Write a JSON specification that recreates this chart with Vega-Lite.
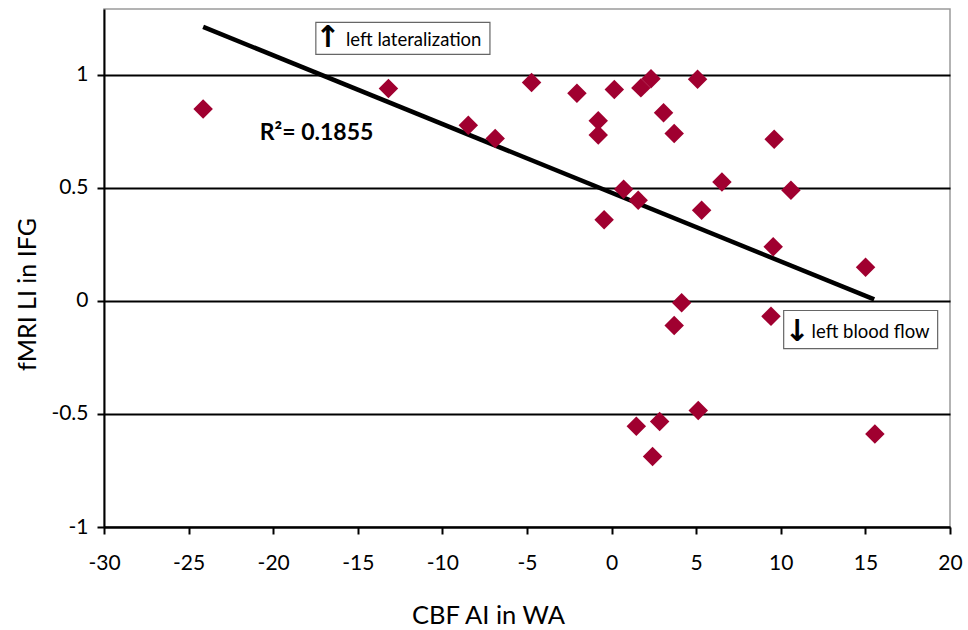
{
  "$schema": "https://vega.github.io/schema/vega-lite/v6.json",
  "width": 846,
  "height": 518,
  "autosize": {"type": "none"},
  "padding": {"left": 104, "top": 9, "right": 18, "bottom": 103},
  "background": "white",
  "config": {
    "view": {"stroke": "#9a9a9a", "strokeWidth": 1.5},
    "font": "Lato"
  },
  "resolve": {"axis": {"x": "independent", "y": "independent"}},
  "datasets": {
    "points": [
      {"x": -24.14, "y": 0.850},
      {"x": -13.19, "y": 0.940},
      {"x": -8.47, "y": 0.778},
      {"x": -6.88, "y": 0.719},
      {"x": -4.73, "y": 0.967},
      {"x": -2.05, "y": 0.919},
      {"x": -0.79, "y": 0.797},
      {"x": -0.79, "y": 0.734},
      {"x": 0.16, "y": 0.936},
      {"x": 1.73, "y": 0.943},
      {"x": 2.33, "y": 0.983},
      {"x": 5.08, "y": 0.981},
      {"x": 3.07, "y": 0.833},
      {"x": 3.70, "y": 0.741},
      {"x": 9.61, "y": 0.716},
      {"x": 0.71, "y": 0.494},
      {"x": 1.57, "y": 0.446},
      {"x": -0.44, "y": 0.360},
      {"x": 6.52, "y": 0.527},
      {"x": 10.6, "y": 0.490},
      {"x": 5.32, "y": 0.401},
      {"x": 9.55, "y": 0.240},
      {"x": 15.01, "y": 0.149},
      {"x": 4.14, "y": -0.008},
      {"x": 3.70, "y": -0.108},
      {"x": 9.42, "y": -0.068},
      {"x": 5.12, "y": -0.484},
      {"x": 2.84, "y": -0.533},
      {"x": 1.46, "y": -0.554},
      {"x": 15.56, "y": -0.589},
      {"x": 2.42, "y": -0.688}
    ],
    "trend": [
      {"x": -24.14, "y": 1.213},
      {"x": 15.52, "y": 0.007}
    ]
  },
  "layer": [
    {
      "data": {"name": "trend"},
      "mark": {"type": "line", "color": "black", "strokeWidth": 4.5},
      "encoding": {
        "x": {
          "field": "x", "type": "quantitative",
          "scale": {"domain": [-30, 20], "nice": false, "zero": false},
          "axis": {
            "title": "CBF AI in WA",
            "values": [-30, -25, -20, -15, -10, -5, 0, 5, 10, 15, 20],
            "labelExpr": "datum.value < 0 ? '-' + format(-datum.value, '') : format(datum.value, '')",
            "labelFlush": false, "labelOverlap": false,
            "grid": false,
            "domainColor": "black", "domainWidth": 2,
            "tickColor": "black", "tickWidth": 2, "tickSize": 7,
            "labelFont": "Lato", "labelFontSize": 21, "labelColor": "black",
            "labelPadding": 18,
            "titleFont": "Lato", "titleFontSize": 25.5, "titleFontWeight": "normal", "titleColor": "black",
            "titleAlign": "center", "titleBaseline": "alphabetic",
            "titleX": 384, "titleY": 96
          }
        },
        "y": {
          "field": "y", "type": "quantitative",
          "scale": {"domain": [-1, 1.292], "nice": false, "zero": false},
          "axis": {
            "title": "fMRI LI in IFG",
            "values": [-1, -0.5, 0, 0.5, 1],
            "labelExpr": "datum.value < 0 ? '-' + format(-datum.value, '') : format(datum.value, '')",
            "labelFlush": false, "labelOverlap": false,
            "grid": true, "gridColor": "black", "gridWidth": 1.8, "gridOpacity": 1,
            "domainColor": "black", "domainWidth": 2,
            "tickColor": "black", "tickWidth": 2, "tickSize": 7,
            "labelFont": "Lato", "labelFontSize": 21, "labelColor": "black",
            "labelPadding": 9,
            "titleFont": "Lato", "titleFontSize": 25, "titleFontWeight": "normal", "titleColor": "black",
            "titleAlign": "center", "titleBaseline": "alphabetic", "titleAngle": -90,
            "titleX": -69, "titleY": 285
          }
        }
      }
    },
    {
      "data": {"name": "points"},
      "mark": {"type": "point", "shape": "diamond", "filled": true, "size": 380, "color": "#A00030", "opacity": 1},
      "encoding": {
        "x": {"field": "x", "type": "quantitative", "axis": null},
        "y": {"field": "y", "type": "quantitative", "axis": null}
      }
    },
    {
      "data": {"values": [{"label": "left lateralization"}]},
      "mark": {"type": "rect", "fill": "white", "stroke": "#666666", "strokeWidth": 1.2},
      "encoding": {
        "x": {"datum": -17.48, "type": "quantitative", "axis": null},
        "x2": {"datum": -7.19},
        "y": {"datum": 1.2325, "type": "quantitative", "axis": null},
        "y2": {"datum": 1.091}
      }
    },
    {
      "data": {"values": [{"label": "left blood flow"}]},
      "mark": {"type": "rect", "fill": "white", "stroke": "#666666", "strokeWidth": 1.2},
      "encoding": {
        "x": {"datum": 10.17, "type": "quantitative", "axis": null},
        "x2": {"datum": 19.27},
        "y": {"datum": -0.042, "type": "quantitative", "axis": null},
        "y2": {"datum": -0.211}
      }
    },
    {
      "data": {"values": [{"label": "left lateralization"}]},
      "mark": {"type": "text", "align": "left", "baseline": "middle", "font": "Lato", "fontSize": 18.5, "color": "black"},
      "encoding": {
        "x": {"datum": -15.70, "type": "quantitative", "axis": null},
        "y": {"datum": 1.157, "type": "quantitative", "axis": null},
        "text": {"field": "label"}
      }
    },
    {
      "data": {"values": [{"label": "↑"}]},
      "mark": {"type": "text", "align": "center", "baseline": "middle", "font": "DejaVu Sans", "fontSize": 30, "fontWeight": "bold", "color": "black"},
      "encoding": {
        "x": {"datum": -16.77, "type": "quantitative", "axis": null},
        "y": {"datum": 1.162, "type": "quantitative", "axis": null},
        "text": {"field": "label"}
      }
    },
    {
      "data": {"values": [{"label": "left blood flow"}]},
      "mark": {"type": "text", "align": "left", "baseline": "middle", "font": "Lato", "fontSize": 18.5, "color": "black"},
      "encoding": {
        "x": {"datum": 11.82, "type": "quantitative", "axis": null},
        "y": {"datum": -0.137, "type": "quantitative", "axis": null},
        "text": {"field": "label"}
      }
    },
    {
      "data": {"values": [{"label": "↓"}]},
      "mark": {"type": "text", "align": "center", "baseline": "middle", "font": "DejaVu Sans", "fontSize": 30, "fontWeight": "bold", "color": "black"},
      "encoding": {
        "x": {"datum": 10.96, "type": "quantitative", "axis": null},
        "y": {"datum": -0.137, "type": "quantitative", "axis": null},
        "text": {"field": "label"}
      }
    },
    {
      "data": {"values": [{"label": "R²= 0.1855"}]},
      "mark": {"type": "text", "align": "left", "baseline": "middle", "font": "Lato", "fontSize": 23, "fontWeight": "bold", "color": "black"},
      "encoding": {
        "x": {"datum": -20.79, "type": "quantitative", "axis": null},
        "y": {"datum": 0.745, "type": "quantitative", "axis": null},
        "text": {"field": "label"}
      }
    }
  ]
}
